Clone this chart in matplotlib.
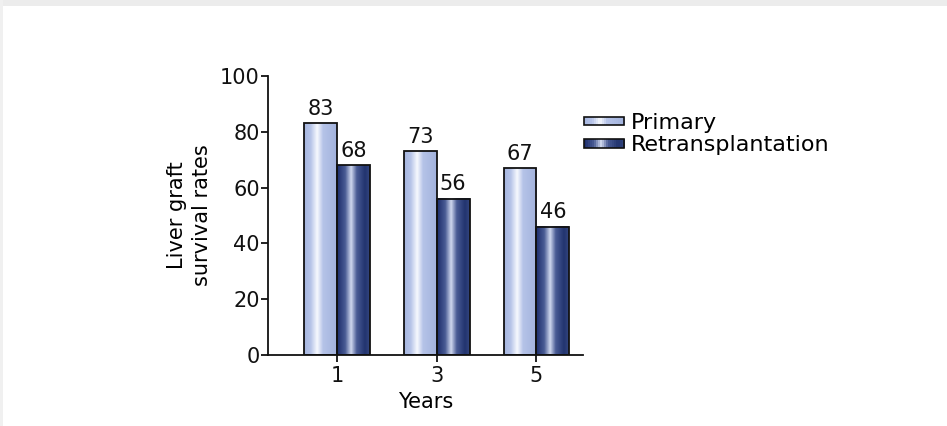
import numpy as np
import matplotlib.pyplot as plt
from matplotlib.colors import LinearSegmentedColormap
from matplotlib.patches import Rectangle
from matplotlib.legend_handler import HandlerBase

plt.rcParams['font.family'] = ['DejaVu Sans']

# data
years = ['1', '3', '5']
primary = [83, 73, 67]
retrans = [68, 56, 46]
series_names = ['Primary', 'Retransplantation']

# cylinder-like shading for the bars
cmap_primary = LinearSegmentedColormap.from_list(
    'prim', [(0, '#a5b5de'), (0.2, '#b5c3e8'), (0.4, '#f7f9fe'),
             (0.58, '#b5c3e8'), (1, '#a2b2dc')])
cmap_retrans = LinearSegmentedColormap.from_list(
    'retr', [(0, '#1b2c6a'), (0.25, '#4a5c95'), (0.43, '#d0d8ee'),
             (0.6, '#4a5c95'), (0.85, '#22346f'), (1, '#34467f')])

fig = plt.figure(figsize=(9.47, 4.26), dpi=100)
# screenshot frame at top/left
fig.patches.append(Rectangle((0, 1 - 6 / 426), 1, 6 / 426, transform=fig.transFigure,
                             facecolor='#ececec', edgecolor='none'))
fig.patches.append(Rectangle((0, 0), 3 / 947, 1, transform=fig.transFigure,
                             facecolor='#f0f0f0', edgecolor='none'))

ax = fig.add_axes([0.283, 0.1667, 0.333, 0.655])

x = np.arange(len(years))
w = 0.33
grad = np.linspace(0, 1, 200).reshape(1, -1)
fs = 15


def gradient_bar(xc, h, cmap):
    x0, x1 = xc - w / 2, xc + w / 2
    ax.imshow(grad, cmap=cmap, extent=(x0, x1, 0, h), aspect='auto', zorder=2)
    ax.add_patch(Rectangle((x0, 0), w, h, facecolor='none', edgecolor='#111111',
                           linewidth=1.3, zorder=3))
    ax.text(xc, h + 1.6, str(h), ha='center', va='bottom', fontsize=fs, color='#111111')


for i in range(len(years)):
    gradient_bar(x[i] - w / 2, primary[i], cmap_primary)
    gradient_bar(x[i] + w / 2, retrans[i], cmap_retrans)

ax.set_xlim(-0.69, 2.47)
ax.set_ylim(0, 100)
ax.set_xticks(x)
ax.set_xticklabels(years)
ax.set_yticks([0, 20, 40, 60, 80, 100])
ax.tick_params(labelsize=fs, width=1.3, length=5, colors='#111111', pad=1)
ax.tick_params(axis='x', pad=3)
for s in ['top', 'right']:
    ax.spines[s].set_visible(False)
for s in ['left', 'bottom']:
    ax.spines[s].set_linewidth(1.3)
    ax.spines[s].set_color('#111111')

ax.set_xlabel('Years', fontsize=fs, labelpad=4)
ax.set_ylabel('Liver graft\nsurvival rates', fontsize=fs, linespacing=1.3, labelpad=6)


class GradHandler(HandlerBase):
    def __init__(self, cmap):
        super().__init__()
        self.cmap = cmap

    def create_artists(self, legend, orig_handle, xdescent, ydescent, width, height,
                       fontsize, trans):
        arts = []
        n = 20
        hh = 6
        y0 = -ydescent + (height - hh) / 2
        for k in range(n):
            r = Rectangle((-xdescent + width * k / n, y0), width / n + 0.3, hh,
                          facecolor=self.cmap((k + 0.5) / n), edgecolor='none', transform=trans)
            arts.append(r)
        arts.append(Rectangle((-xdescent, y0), width, hh, facecolor='none',
                              edgecolor='#111111', linewidth=1.2, transform=trans))
        return arts


h1 = Rectangle((0, 0), 1, 1)
h2 = Rectangle((0, 0), 1, 1)
fig.legend([h1, h2], series_names, loc='upper left', bbox_to_anchor=(0.617, 0.735),
           frameon=False, fontsize=16, handlelength=1.8, handletextpad=0.3,
           labelspacing=0.1, borderaxespad=0, borderpad=0,
           handler_map={h1: GradHandler(cmap_primary), h2: GradHandler(cmap_retrans)})

fig.savefig('out.png', dpi=100)
